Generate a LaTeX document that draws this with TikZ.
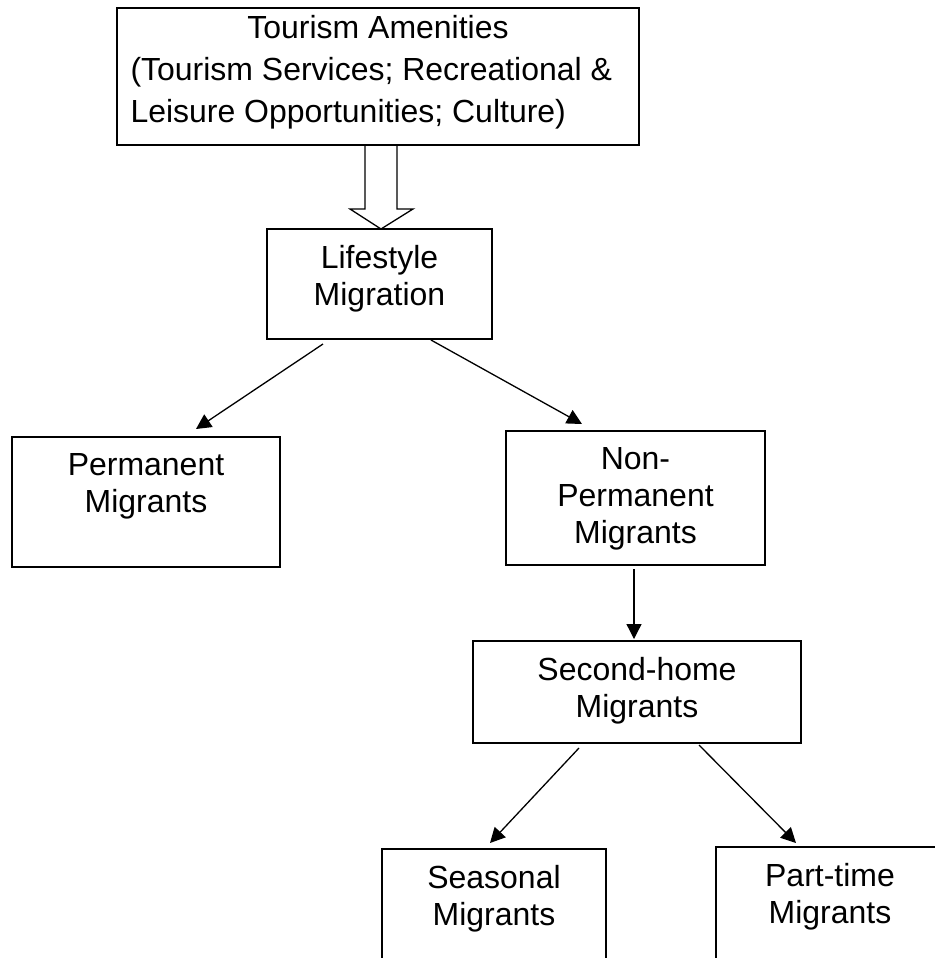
\documentclass[tikz,border=0pt]{standalone}
\usepackage{fontspec}
\setmainfont{Liberation Sans}
\usetikzlibrary{arrows.meta,positioning,calc}
\newlength\px
\setlength\px{0.02cm}
\tikzset{
    box/.style={draw, line width=2\px, inner sep=0pt},
    boxtext/.style={inner sep=0pt, align=center, font=\fontsize{18.2}{21}\selectfont},
    link/.style={-{Triangle[length=0.3cm,width=0.3cm]}, line width=0.026cm},
}
\begin{document}
\begin{tikzpicture}[x=0.02cm,y=-0.02cm]
    \useasboundingbox (0,0) rectangle (935,958);
    \clip (0,0) rectangle (935,958);
    \node[box, minimum width=522\px, minimum height=137\px] (tam) at (378,76.5) {};
    \node[box, minimum width=225\px, minimum height=110\px] (life) at (379.5,284) {};
    \node[box, minimum width=268\px, minimum height=130\px] (perm) at (146,502) {};
    \node[box, minimum width=259\px, minimum height=134\px] (nonp) at (635.5,498) {};
    \node[box, minimum width=328\px, minimum height=102\px] (shm) at (637,692) {};
    \node[box, minimum width=224\px, minimum height=160\px] (seas) at (494,929) {};
    \node[box, minimum width=228\px, minimum height=160\px] (part) at (830,927) {};
    \node[boxtext, font=\fontsize{18.2}{23.8}\selectfont, text width=495\px, align=flush left,
        below=8\px of tam.north] (tamt)
        {{\centering Tourism Amenities\par}(Tourism Services; Recreational \&\\Leisure Opportunities; Culture)};
    \node[boxtext, below=17\px of life.north] (lifet) {Lifestyle\\Migration};
    \node[boxtext, below=17\px of perm.north] (permt) {Permanent\\Migrants};
    \node[boxtext, below=17\px of nonp.north] (nonpt) {Non-\\Permanent\\Migrants};
    \node[boxtext, below=17\px of shm.north] (shmt) {Second-home\\Migrants};
    \node[boxtext, below=17\px of seas.north] (seast) {Seasonal\\Migrants};
    \node[boxtext, below=17\px of part.north] (partt) {Part-time\\Migrants};
    \draw[line width=0.026cm, shift={(tam.south)}]
        (-13,0) -- (-13,63) -- (-28,63) -- (3,83) -- (35,63) -- (19,63) -- (19,0);
    \draw[link] ($(life.south west)+(57,4)$) -- ($(perm.north west)+(185,-7)$);
    \draw[link] ($(life.south west)+(165,0)$) -- ($(nonp.north west)+(77,-6)$);
    \draw[link] ($(nonp.south)+(-1.5,3)$) -- ($(shm.north)+(-3,-1)$);
    \draw[link] ($(shm.south west)+(107,4)$) -- ($(seas.north west)+(109,-5)$);
    \draw[link] ($(shm.south west)+(227,1)$) -- ($(part.north west)+(81,-3)$);
\end{tikzpicture}
\end{document}
